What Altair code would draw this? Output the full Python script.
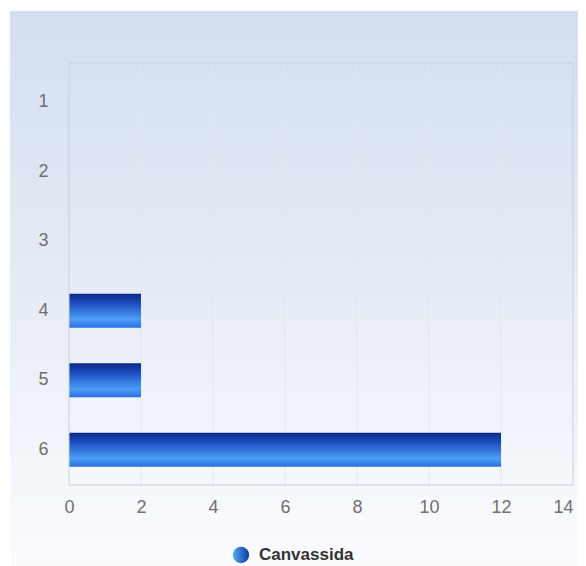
import altair as alt
import pandas as pd

categories = ["1", "2", "3", "4", "5", "6"]
values = [0, 0, 0, 2, 2, 12]
x_ticks = [0, 2, 4, 6, 8, 10, 12, 14]
series_name = "Canvassida"

W, H = 504, 422
FONT = "Liberation Sans"

df = pd.DataFrame({"cat": categories, "val": values})
grid_df = pd.DataFrame({"t": [t for t in x_ticks if 0 < t < 14]})
one = pd.DataFrame({"a": [0]})

x_scale = alt.Scale(domain=[0, 14], nice=False, zero=True)
y_scale = alt.Scale(domain=categories, paddingInner=0.51, paddingOuter=0.29, align=0.55)

x_axis = alt.Axis(values=x_ticks, grid=False, ticks=False, domain=False,
                  labelFontSize=18, labelColor="#707070", labelFont=FONT,
                  labelPadding=13, title=None, zindex=2, labelFlush=False,
                  labelAlign=alt.expr("datum.value == 14 ? 'right' : 'center'"))
y_axis = alt.Axis(grid=False, ticks=False, domain=False,
                  labelFontSize=18, labelColor="#707070", labelFont=FONT,
                  labelPadding=21, title=None, zindex=2)

bg_grad = alt.Gradient(
    gradient="linear", x1=0, x2=0, y1=0, y2=1,
    stops=[alt.GradientStop(color="#d3deef", offset=0),
           alt.GradientStop(color="#e6ecf6", offset=0.5),
           alt.GradientStop(color="#fbfcfe", offset=1)])

bar_grad = alt.Gradient(
    gradient="linear", x1=0, x2=0, y1=0, y2=1,
    stops=[alt.GradientStop(color="#0a2a88", offset=0),
           alt.GradientStop(color="#1e50c2", offset=0.3),
           alt.GradientStop(color="#4d9df7", offset=0.75),
           alt.GradientStop(color="#2a6ee0", offset=1)])

leg_grad = alt.Gradient(
    gradient="linear", x1=0, x2=1, y1=0, y2=0,
    stops=[alt.GradientStop(color="#5aa8f8", offset=0),
           alt.GradientStop(color="#0b3a9c", offset=1)])

bg = alt.Chart(one).mark_rect(fill=bg_grad).encode(
    x=alt.value(-59), x2=alt.value(509), y=alt.value(-52), y2=alt.value(503))

grid = alt.Chart(grid_df).mark_rule(color="#e1e7ef", strokeWidth=1).encode(
    x=alt.X("t:Q", scale=x_scale, axis=x_axis))

bars = alt.Chart(df).mark_bar(fill=bar_grad).encode(
    x=alt.X("val:Q", scale=x_scale, axis=x_axis),
    y=alt.Y("cat:O", scale=y_scale, sort=categories, axis=y_axis),
)

border = alt.Chart(one).mark_rect(filled=False, stroke="#c9d1dc", strokeWidth=1).encode(
    x=alt.value(0), x2=alt.value(W), y=alt.value(0), y2=alt.value(H))

leg_pt = alt.Chart(one).mark_point(filled=True, shape="circle", size=270, fill=leg_grad, opacity=1).encode(
    x=alt.value(172), y=alt.value(492))

leg_txt = alt.Chart(one).mark_text(text=series_name, align="left", baseline="middle",
                                   fontSize=17, fontWeight="bold", font=FONT,
                                   color="#333333").encode(
    x=alt.value(190), y=alt.value(492))

chart = alt.layer(bg, grid, bars, border, leg_pt, leg_txt).properties(
    width=W, height=H,
    padding={"left": 61, "top": 55, "right": 5, "bottom": 81},
    autosize="none",
).configure_view(stroke=None)

chart.save("out.html", embed_options={"renderer": "svg", "actions": False})
